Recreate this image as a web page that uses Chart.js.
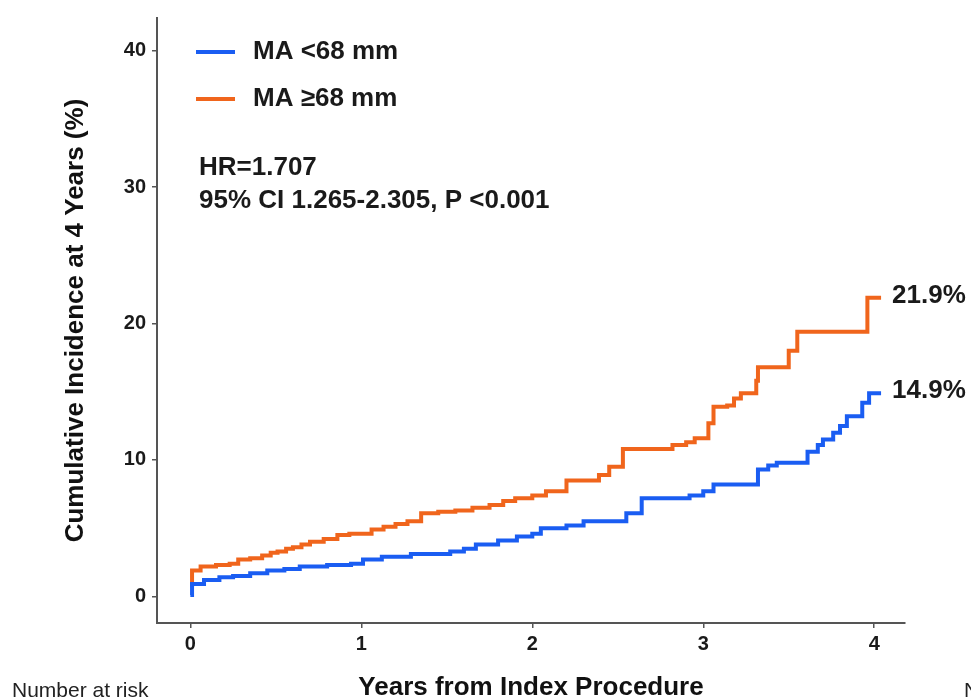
<!DOCTYPE html>
<html>
<head>
<meta charset="utf-8">
<script src="https://cdn.jsdelivr.net/npm/chart.js@4.4.0/dist/chart.umd.min.js"></script>
<style>
  html, body { margin: 0; padding: 0; background: #fff; }
  #wrap { width: 971px; height: 699px; }
</style>
</head>
<body>
<div id="wrap"><canvas id="kmChart" width="971" height="699"></canvas></div>
<script>
const seriesLabels = ['MA <68 mm', 'MA ≥68 mm'];
const seriesColors = ['#1a5df2', '#f0651c'];
const endLabels = ['14.9%', '21.9%'];
const statLines = ['HR=1.707', '95% CI 1.265-2.305, P <0.001'];

// years from procedure / cumulative incidence (%)
const lowYears = [0, 0.01, 0.08, 0.17, 0.25, 0.35, 0.45, 0.55, 0.64, 0.8, 0.94, 1.01, 1.12, 1.29, 1.52,
  1.6, 1.67, 1.8, 1.91, 2.0, 2.05, 2.2, 2.3, 2.55, 2.64, 2.92, 3.0, 3.06, 3.32, 3.38, 3.43, 3.61, 3.67,
  3.7, 3.76, 3.8, 3.84, 3.93, 3.97, 4.04];
const lowIncidence = [0.1, 0.9, 1.2, 1.4, 1.5, 1.7, 1.9, 2.0, 2.2, 2.3, 2.4, 2.7, 2.9, 3.1, 3.3,
  3.5, 3.8, 4.1, 4.4, 4.6, 5.0, 5.2, 5.5, 6.1, 7.2, 7.4, 7.7, 8.2, 9.3, 9.6, 9.8, 10.6, 11.1,
  11.5, 12.0, 12.5, 13.2, 14.2, 14.9, 14.9];

const highYears = [0, 0.01, 0.06, 0.15, 0.23, 0.28, 0.35, 0.42, 0.47, 0.51, 0.56, 0.6, 0.65, 0.7, 0.78,
  0.86, 0.93, 1.06, 1.13, 1.2, 1.27, 1.35, 1.45, 1.55, 1.65, 1.75, 1.83, 1.9, 2.0, 2.08, 2.2, 2.39, 2.45,
  2.53, 2.82, 2.9, 2.95, 3.03, 3.06, 3.14, 3.18, 3.22, 3.31, 3.32, 3.5, 3.55, 3.96, 4.04];
const highIncidence = [0.8, 1.9, 2.2, 2.3, 2.4, 2.7, 2.8, 3.0, 3.2, 3.3, 3.5, 3.6, 3.8, 4.0, 4.2,
  4.5, 4.6, 4.9, 5.1, 5.3, 5.5, 6.1, 6.2, 6.3, 6.5, 6.7, 7.0, 7.2, 7.4, 7.7, 8.5, 8.9, 9.5,
  10.8, 11.1, 11.3, 11.6, 12.7, 13.9, 14.0, 14.5, 14.9, 15.8, 16.8, 18.0, 19.4, 21.9, 21.9];

const xTicks = [0, 1, 2, 3, 4];
const yTicks = [0, 10, 20, 30, 40];

const FAMILY = '"Liberation Sans", Arial, Helvetica, sans-serif';
const toPoints = (xs, ys) => xs.map((t, i) => ({ x: t, y: ys[i] }));

// legend, HR text, end labels and the bits of the risk table that show
const overlay = {
  id: 'overlay',
  afterDraw(chart) {
    const { ctx, scales: { x, y } } = chart;
    ctx.save();
    ctx.textBaseline = 'middle';
    ctx.font = 'bold 26px ' + FAMILY;
    seriesLabels.forEach((lab, i) => {
      const ly = 52 + i * 47;
      ctx.strokeStyle = seriesColors[i];
      ctx.lineWidth = 4;
      ctx.beginPath();
      ctx.moveTo(196, ly);
      ctx.lineTo(235, ly);
      ctx.stroke();
      ctx.fillStyle = '#1a1a1a';
      ctx.fillText(lab, 253, ly);
    });
    statLines.forEach((s, i) => ctx.fillText(s, 199, 168 + i * 33));

    const ends = [[lowYears, lowIncidence], [highYears, highIncidence]];
    ends.forEach(([xs, ys], i) => {
      const px = x.getPixelForValue(xs[xs.length - 1]) + 11;
      const py = y.getPixelForValue(ys[ys.length - 1]) - 2;
      ctx.fillText(endLabels[i], px, py);
    });

    ctx.font = '21px ' + FAMILY;
    ctx.fillStyle = '#222';
    ctx.fillText('Number at risk', 12, 691);
    ctx.fillText('Number at risk', 964, 691);
    ctx.restore();
  }
};

new Chart(document.getElementById('kmChart'), {
  type: 'line',
  data: {
    datasets: [
      { label: seriesLabels[0], data: toPoints(lowYears, lowIncidence), borderColor: seriesColors[0] },
      { label: seriesLabels[1], data: toPoints(highYears, highIncidence), borderColor: seriesColors[1] }
    ]
  },
  options: {
    responsive: false,
    animation: false,
    layout: { padding: { top: 10, right: 66, left: 0, bottom: 0 } },
    elements: {
      line: { borderWidth: 4, stepped: 'before', fill: false },
      point: { radius: 0 }
    },
    plugins: { legend: { display: false }, tooltip: { enabled: false } },
    scales: {
      x: {
        type: 'linear',
        min: -0.195,
        max: 4.18,
        afterBuildTicks: s => { s.ticks = xTicks.map(v => ({ value: v })); },
        afterFit: s => { s.height = 76; },
        grid: { drawOnChartArea: false, drawTicks: true, tickLength: 5, color: '#555', lineWidth: 1.5 },
        border: { display: true, color: '#555', width: 2 },
        ticks: { font: { family: FAMILY, size: 20, weight: 'bold' }, color: '#1a1a1a', padding: 4, maxRotation: 0 },
        title: {
          display: true, text: 'Years from Index Procedure', color: '#111',
          font: { family: FAMILY, size: 26, weight: 'bold' }, padding: { top: 0, bottom: -4 }
        }
      },
      y: {
        type: 'linear',
        min: -1.95,
        max: 42.4,
        afterBuildTicks: s => { s.ticks = yTicks.map(v => ({ value: v })); },
        afterFit: s => { s.width = 157; },
        grid: { drawOnChartArea: false, drawTicks: true, tickLength: 5, color: '#555', lineWidth: 1.5 },
        border: { display: true, color: '#555', width: 2 },
        ticks: { font: { family: FAMILY, size: 20, weight: 'bold' }, color: '#1a1a1a', padding: 6 },
        title: {
          display: true, text: 'Cumulative Incidence at 4 Years (%)', color: '#111',
          font: { family: FAMILY, size: 26, weight: 'bold' }, padding: { top: 60, bottom: 0 }
        }
      }
    }
  },
  plugins: [overlay]
});
</script>
</body>
</html>
